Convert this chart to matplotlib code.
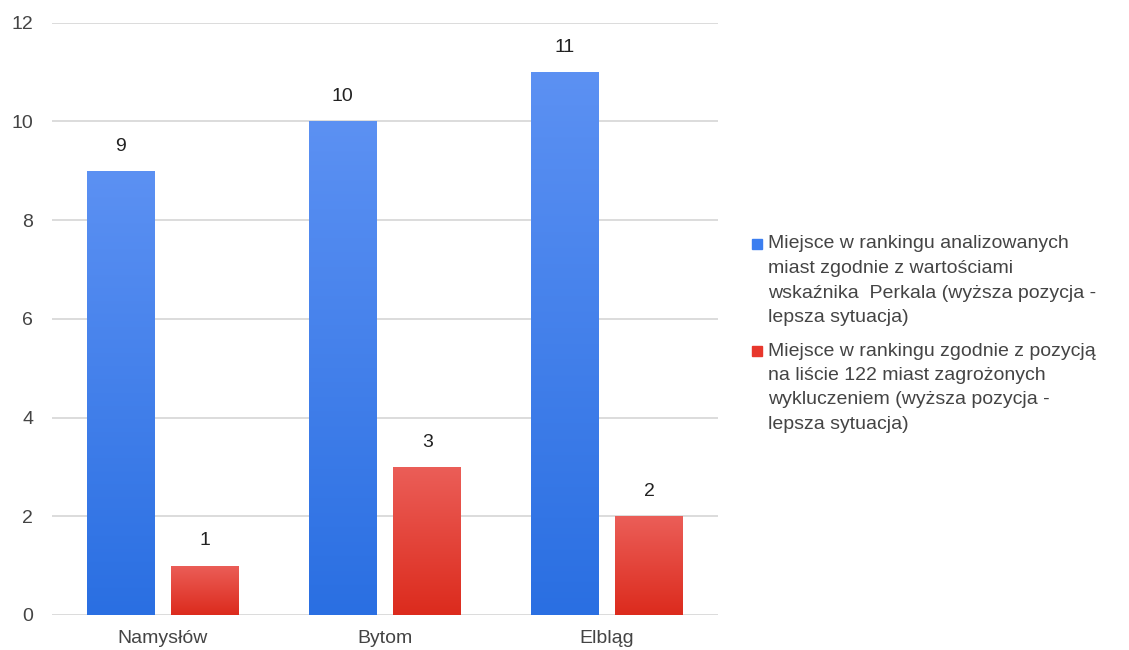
import numpy as np
import matplotlib
matplotlib.use('Agg')
import matplotlib.pyplot as plt
from matplotlib.colors import LinearSegmentedColormap
from matplotlib.patches import Rectangle

plt.rcParams['font.family'] = ['Liberation Sans', 'DejaVu Sans']

cities = ['Namysłów', 'Bytom', 'Elbląg']
perkal_rank = [9, 10, 11]
list_rank = [1, 3, 2]
label_perkal = ['Miejsce w rankingu analizowanych', 'miast zgodnie z wartościami',
                'wskaźnika  Perkala (wyższa pozycja -', 'lepsza sytuacja)']
label_list = ['Miejsce w rankingu zgodnie z pozycją', 'na liście 122 miast zagrożonych',
              'wykluczeniem (wyższa pozycja -', 'lepsza sytuacja)']

text_col = '#444444'
blue_grad = LinearSegmentedColormap.from_list('b', ['#2a6fe2', '#5c91f3'])
red_grad = LinearSegmentedColormap.from_list('r', ['#dc2b1d', '#eb5e58'])

W, H = 1129, 650
fig = plt.figure(figsize=(W / 100, H / 100), dpi=100)
ax = fig.add_axes([0.046, 0.054, 0.590, 0.911])

x = np.arange(len(cities))
w = 0.306
off = 0.19
fs = 14


def gradient_bars(xs, heights, cmap):
    bars = ax.bar(xs, heights, w, color='none', edgecolor='none', zorder=3)
    grad = np.linspace(0, 1, 256).reshape(-1, 1)
    for b in bars:
        x0, y0 = b.get_x(), b.get_y()
        im = ax.imshow(grad, cmap=cmap, origin='lower', aspect='auto',
                       extent=[x0, x0 + b.get_width(), y0, y0 + b.get_height()],
                       zorder=3)
        im.set_clip_path(b)
    for b, v in zip(bars, heights):
        ax.text(b.get_x() + b.get_width() / 2, v + 0.33, str(v), ha='center', va='bottom',
                fontsize=fs, color='#222222')
    return bars


gradient_bars(x - off, perkal_rank, blue_grad)
gradient_bars(x + off, list_rank, red_grad)

ax.set_xlim(-0.5, 2.5)
ax.set_ylim(0, 12)
ax.set_yticks(range(0, 13, 2))
ax.set_xticks(x)
ax.set_xticklabels(cities)
ax.grid(axis='y', color='#d6d6d6', linewidth=1.2, zorder=0)
ax.set_axisbelow(True)
for s in ax.spines.values():
    s.set_visible(False)
ax.tick_params(length=0, labelsize=fs, colors=text_col)
ax.tick_params(axis='x', pad=11)
ax.tick_params(axis='y', pad=13.5)

# legend drawn line by line (pixel layout of the original)
line_h = 24.5
for lines, y_first, col in [(label_perkal, 244, '#3b7ef0'), (label_list, 351, '#e8372c')]:
    fig.patches.append(Rectangle(((752) / W, 1 - (y_first + 5) / H), 10 / W, 10 / H,
                                 transform=fig.transFigure, color=col))
    for i, ln in enumerate(lines):
        fig.text(768 / W, 1 - (y_first + i * line_h) / H, ln, fontsize=fs,
                 color=text_col, va='center', ha='left')

fig.savefig('out.png', dpi=100, facecolor='white')
